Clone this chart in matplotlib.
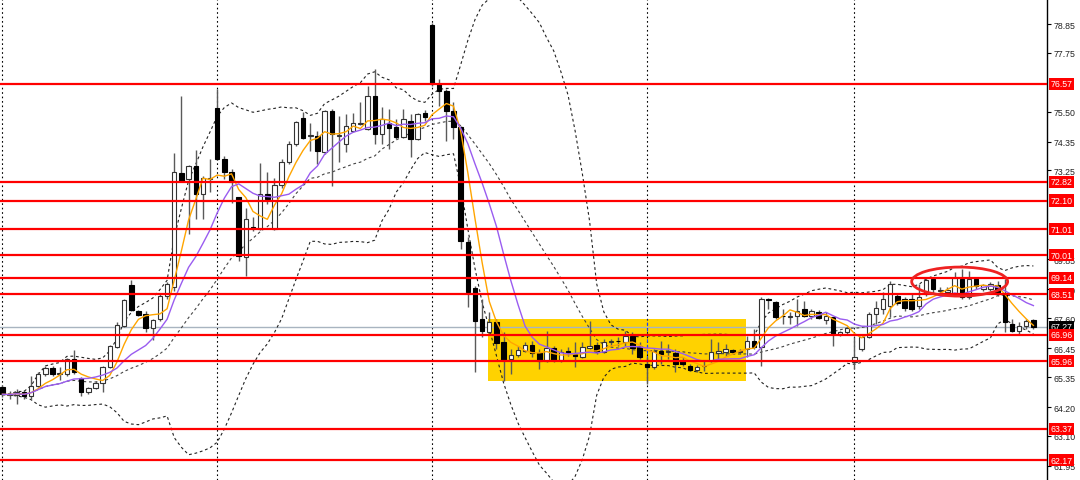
import numpy as np
import pandas as pd
import matplotlib
matplotlib.use('Agg')
import matplotlib.pyplot as plt
from matplotlib.patches import Ellipse, Rectangle

# daily candles
opens = [64.96, 64.66, 64.66, 64.77, 64.62, 65.00, 65.46, 65.69, 65.46, 65.46,
         66.03, 65.31, 64.77, 64.92, 65.12, 65.73, 66.49, 67.30, 68.86, 67.87,
         67.76, 67.22, 67.56, 68.44, 68.79, 73.15, 72.92, 73.42, 72.35, 72.92,
         75.64, 73.69, 73.19, 72.23, 69.94, 71.05, 71.01, 72.35, 71.01, 72.69,
         73.57, 74.26, 75.25, 74.56, 74.56, 73.95, 75.52, 74.56, 74.26, 74.76,
         75.02, 74.83, 76.09, 74.64, 75.06, 74.91, 74.53, 75.14, 74.45, 75.44,
         78.81, 76.55, 76.29, 75.52, 74.91, 70.51, 68.75, 67.56, 67.07, 67.45,
         66.68, 66.03, 66.19, 66.34, 66.57, 66.26, 65.96, 66.45, 65.99, 66.34,
         66.22, 66.11, 66.45, 66.57, 66.30, 66.68, 66.72, 66.68, 66.91, 66.53,
         65.84, 65.73, 66.34, 66.30, 66.26, 65.96, 65.77, 65.61, 65.77, 65.96,
         66.26, 66.30, 66.38, 66.30, 66.42, 66.72, 66.49, 68.33, 68.21, 67.68,
         67.64, 67.68, 67.95, 67.68, 67.83, 67.53, 67.64, 66.99, 67.07, 65.92,
         66.42, 66.87, 67.76, 67.95, 68.06, 68.44, 68.33, 68.33, 68.06, 68.52,
         69.09, 68.64, 68.60, 68.52, 69.09, 68.41, 69.09, 68.71, 68.71, 68.86,
         68.52, 67.37, 67.11, 67.30, 67.53]
highs = [65.04, 64.81, 64.89, 64.85, 65.38, 65.54, 65.77, 65.77, 65.73, 66.07,
         66.38, 65.35, 64.96, 65.19, 65.77, 66.57, 67.45, 68.33, 69.06, 67.91,
         67.87, 67.56, 68.52, 68.98, 73.91, 76.10, 73.46, 74.03, 73.03, 73.69,
         76.36, 73.80, 73.30, 72.23, 71.81, 71.47, 73.53, 73.19, 72.96, 73.69,
         74.37, 75.14, 75.48, 75.06, 74.76, 75.56, 75.60, 75.33, 75.41, 75.44,
         75.87, 76.48, 77.13, 75.67, 75.60, 75.22, 75.60, 75.41, 75.44, 75.56,
         78.89, 76.75, 76.36, 75.87, 74.95, 70.70, 68.83, 68.33, 67.83, 67.56,
         67.07, 66.42, 66.53, 66.68, 66.72, 66.42, 67.11, 66.53, 66.42, 66.49,
         66.68, 66.68, 67.49, 66.68, 66.80, 66.80, 66.87, 67.11, 67.07, 66.68,
         66.11, 66.42, 66.72, 66.61, 66.42, 66.11, 65.84, 65.80, 65.96, 66.80,
         66.68, 66.61, 66.42, 66.42, 66.91, 67.18, 68.41, 68.37, 68.25, 67.95,
         67.83, 68.33, 68.25, 67.95, 67.91, 67.83, 67.64, 67.11, 67.26, 66.87,
         66.91, 67.83, 68.25, 68.60, 69.02, 68.56, 68.41, 68.52, 68.90, 69.17,
         69.17, 68.79, 68.79, 69.36, 69.48, 69.40, 69.13, 68.90, 68.98, 69.02,
         69.09, 67.56, 67.45, 67.56, 67.56]
lows = [64.58, 64.50, 64.31, 64.50, 64.50, 64.96, 65.38, 65.38, 65.23, 65.38,
        65.46, 64.62, 64.69, 64.89, 64.77, 65.69, 66.45, 67.26, 67.87, 67.68,
        67.07, 66.76, 67.49, 68.33, 68.64, 72.80, 70.82, 71.39, 71.39, 72.42,
        73.65, 72.92, 72.00, 69.78, 69.21, 70.93, 70.97, 71.96, 70.97, 72.57,
        73.49, 74.18, 74.45, 73.99, 73.49, 73.88, 72.65, 73.57, 73.95, 74.72,
        74.99, 74.79, 74.26, 74.26, 74.07, 74.45, 74.49, 73.76, 74.41, 75.14,
        76.48, 75.71, 74.37, 74.45, 70.24, 68.02, 65.54, 66.87, 67.00, 66.42,
        65.19, 65.46, 66.11, 66.30, 66.11, 65.65, 65.92, 65.92, 65.92, 66.15,
        65.73, 66.07, 66.42, 66.22, 66.28, 66.53, 66.53, 66.53, 66.22, 66.03,
        65.08, 65.65, 65.84, 66.03, 65.54, 65.77, 65.58, 65.54, 65.58, 65.92,
        66.03, 66.15, 66.22, 66.22, 66.11, 66.42, 65.77, 67.95, 67.56, 67.37,
        67.37, 67.30, 67.64, 67.56, 67.56, 67.37, 66.53, 66.91, 66.99, 65.65,
        66.34, 66.84, 67.37, 67.76, 67.64, 68.10, 67.87, 67.87, 67.95, 68.44,
        68.52, 68.44, 68.48, 68.44, 68.33, 68.33, 68.71, 68.64, 68.64, 68.44,
        67.07, 67.07, 66.99, 67.18, 67.18]
closes = [64.69, 64.67, 64.77, 64.62, 65.00, 65.46, 65.69, 65.46, 65.50, 66.03,
          65.54, 64.77, 64.92, 65.12, 65.73, 66.53, 67.33, 68.29, 67.91, 67.72,
          67.22, 67.53, 68.44, 68.90, 73.19, 72.84, 73.42, 72.35, 72.96, 72.96,
          73.69, 73.19, 72.81, 69.97, 71.39, 71.04, 72.35, 72.16, 72.69, 73.57,
          74.26, 75.10, 74.49, 74.57, 73.99, 75.52, 74.64, 74.57, 74.95, 75.06,
          75.06, 76.09, 74.64, 75.22, 74.87, 74.53, 75.22, 74.45, 75.41, 75.29,
          76.55, 76.29, 75.52, 74.91, 70.55, 68.60, 67.49, 67.11, 67.45, 66.65,
          65.99, 66.19, 66.38, 66.57, 66.26, 65.96, 66.45, 65.99, 66.30, 66.26,
          66.15, 66.49, 66.53, 66.30, 66.68, 66.69, 66.71, 66.91, 66.45, 66.11,
          65.73, 66.34, 66.22, 66.31, 65.84, 65.84, 65.61, 65.73, 65.76, 66.30,
          66.34, 66.42, 66.30, 66.34, 66.72, 66.49, 68.33, 68.30, 67.64, 67.67,
          67.65, 67.87, 67.68, 67.87, 67.60, 67.68, 66.99, 67.07, 67.22, 66.11,
          66.87, 67.76, 67.98, 68.33, 68.90, 68.18, 67.98, 67.95, 68.41, 69.06,
          68.71, 68.65, 68.67, 69.13, 68.41, 69.09, 68.83, 68.86, 68.90, 68.52,
          67.45, 67.11, 67.30, 67.49, 67.27]

levels = [76.57, 72.82, 72.10, 71.01, 70.01, 69.14, 68.51, 66.96, 65.96, 63.37, 62.17]
price_ticks = [78.85, 77.75, 75.50, 74.35, 73.25, 69.85,
               68.70, 67.60, 66.45, 65.35, 64.20, 63.10, 61.95]
last_price = 67.27
grid_bars = [0, 30, 60, 90, 119]
zone_bars = [67.8, 103.9]
zone_prices = [65.19, 67.56]
oval_bar, oval_price = 133.7, 69.0
oval_w, oval_h = 13.4, 1.11

o = np.array(opens); h = np.array(highs); l = np.array(lows); c = np.array(closes)
x = np.arange(len(c))
s = pd.Series(c)
ma_fast = s.rolling(5, min_periods=1).mean()
ma_slow = s.rolling(10, min_periods=1).mean()
mid20 = s.rolling(20, min_periods=1).mean()
sd20 = s.rolling(20, min_periods=2).std(ddof=0).bfill()

fig = plt.figure(figsize=(10.8, 4.81), dpi=100)
ax = fig.add_axes([0, 0, 1047 / 1080, 1])
ax.set_xlim(-0.34, 145.9)
ax.set_ylim(61.41, 79.81)

ax.add_patch(Rectangle((zone_bars[0], zone_prices[0]), zone_bars[1] - zone_bars[0],
                       zone_prices[1] - zone_prices[0], color='#FFD200', lw=0, zorder=0))
for g in grid_bars:
    ax.axvline(g, color='black', lw=0.8, ls=(0, (1.5, 2.5)), zorder=1)
ax.vlines(90, zone_prices[0], zone_prices[1], color='#2040FF', lw=0.8, ls=(0, (3, 2)), zorder=1.1)

ax.axhline(last_price, color='#A8B4C0', lw=1, zorder=1)

# bollinger 20, 2
band_ls = (0, (2.5, 2.5))
ax.plot(x, mid20 + 2 * sd20, color='#222222', lw=0.8, ls=band_ls, zorder=2)
ax.plot(x, mid20, color='#444444', lw=0.8, ls=band_ls, zorder=2)
ax.plot(x, mid20 - 2 * sd20, color='#222222', lw=0.8, ls=band_ls, zorder=2)

# candles
up = c >= o
ax.vlines(x, l, h, color='#5a5a5a', lw=1, zorder=3)
body = np.maximum(np.abs(c - o), 0.03)
ax.bar(x[up], body[up], bottom=np.minimum(o, c)[up], width=0.62,
       color='white', edgecolor='#333333', lw=0.8, zorder=4)
ax.bar(x[~up], body[~up], bottom=np.minimum(o, c)[~up], width=0.62,
       color='black', edgecolor='black', lw=0.8, zorder=4)

ax.plot(x, ma_fast, color='#FFA500', lw=1, zorder=5)
ax.plot(x, ma_slow, color='#9A5CF0', lw=1, zorder=5)

for lv in levels:
    ax.axhline(lv, color='#FF0000', lw=1.6, zorder=6)
ax.add_patch(Ellipse((oval_bar, oval_price), oval_w, oval_h, fill=False,
                     ec='#EE2222', lw=2, zorder=6))

ax.yaxis.tick_right()
ax.set_yticks(price_ticks)
ax.set_yticklabels([f"{t:.2f}" for t in price_ticks])
ax.tick_params(axis='y', direction='out', length=3, width=0.8, pad=2,
               labelsize=6.3, labelcolor='#222222')
ax.set_xticks([])
for sp in ['left', 'top', 'bottom']:
    ax.spines[sp].set_visible(False)
ax.spines['right'].set_linewidth(1)
for t in ax.get_yticklabels():
    t.set_fontfamily('Liberation Sans')

yt = ax.get_yaxis_transform()
ax.text(1.003, last_price, f"{last_price:.2f}", transform=yt, ha='left', va='center',
        fontsize=6.3, family='Liberation Sans', color='white', zorder=9,
        bbox=dict(boxstyle='square,pad=0.18', fc='black', ec='none'), clip_on=False)
for lv in levels:
    ax.text(1.003, lv, f"{lv:.2f}", transform=yt, ha='left', va='center',
            fontsize=6.3, family='Liberation Sans', color='white', zorder=10,
            bbox=dict(boxstyle='square,pad=0.18', fc='#FF0000', ec='none'), clip_on=False)

fig.savefig('out.png', dpi=100)
